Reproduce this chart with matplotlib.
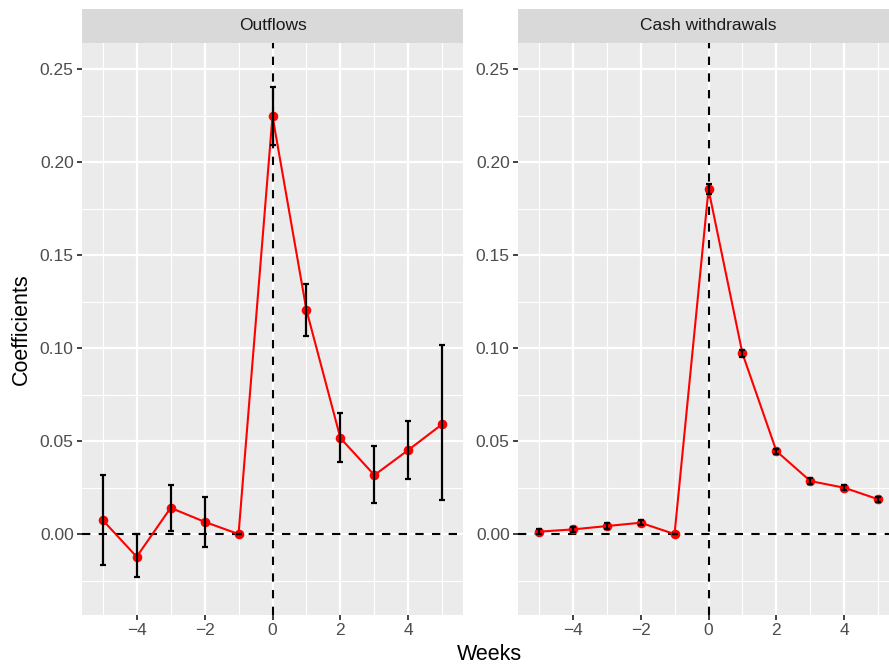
import matplotlib.pyplot as plt
import numpy as np

plt.rcParams["font.family"] = ["Liberation Sans", "DejaVu Sans"]

weeks = [-5, -4, -3, -2, -1, 0, 1, 2, 3, 4, 5]

# Outflows
out_coef = [0.0075, -0.0122, 0.0141, 0.0066, 0.0, 0.2247, 0.1204, 0.0516, 0.0317, 0.0452, 0.0591]
out_low = [-0.0167, -0.0231, 0.0018, -0.0068, 0.0, 0.2091, 0.1066, 0.0390, 0.0167, 0.0296, 0.0183]
out_high = [0.0317, 0.0, 0.0263, 0.0200, 0.0, 0.2405, 0.1342, 0.0650, 0.0473, 0.0608, 0.1016]

# Cash withdrawals
cash_coef = [0.0013, 0.0025, 0.0043, 0.0061, 0.0, 0.1853, 0.0971, 0.0446, 0.0285, 0.0249, 0.0187]
cash_low = [0.0001, 0.0012, 0.0029, 0.0047, 0.0, 0.1826, 0.0952, 0.0432, 0.0271, 0.0236, 0.0174]
cash_high = [0.0025, 0.0038, 0.0057, 0.0075, 0.0, 0.1880, 0.0990, 0.0460, 0.0299, 0.0262, 0.0200]

panels = [
    ("Outflows", out_coef, out_low, out_high),
    ("Cash withdrawals", cash_coef, cash_low, cash_high),
]

W, H = 889, 668
fig = plt.figure(figsize=(W / 100, H / 100), dpi=100)

panel_left = [82, 518]
panel_w = 381
panel_top = 43
panel_bot = 615
strip_top = 9

TICK_COL = "#4D4D4D"

for (title, coef, low, high), px in zip(panels, panel_left):
    ax = fig.add_axes([px / W, 1 - panel_bot / H, panel_w / W, (panel_bot - panel_top) / H])
    ax.set_facecolor("#EBEBEB")
    for s in ax.spines.values():
        s.set_visible(False)

    ax.set_xlim(-5.61, 5.61)
    ax.set_ylim(-0.0435, 0.264)

    ax.set_xticks([-4, -2, 0, 2, 4])
    ax.set_xticklabels(["\u22124", "\u22122", "0", "2", "4"])
    ax.set_xticks([-5, -3, -1, 1, 3, 5], minor=True)
    ax.set_yticks([0.0, 0.05, 0.10, 0.15, 0.20, 0.25])
    ax.set_yticklabels(["0.00", "0.05", "0.10", "0.15", "0.20", "0.25"])
    ax.set_yticks([-0.025, 0.025, 0.075, 0.125, 0.175, 0.225], minor=True)

    ax.grid(which="major", color="white", linewidth=1.6)
    ax.grid(which="minor", color="white", linewidth=0.8)
    ax.set_axisbelow(True)
    ax.tick_params(which="major", length=3.5, width=1.3, color="#333333",
                   labelsize=12.5, labelcolor=TICK_COL, pad=2.5)
    ax.tick_params(which="minor", length=0)

    ax.axhline(0, color="black", linestyle=(0, (4, 4)), linewidth=1.5, zorder=2)
    ax.axvline(0, color="black", linestyle=(0, (4, 4)), linewidth=1.5, zorder=2)

    ax.plot(weeks, coef, color="red", linewidth=1.5, zorder=3)
    ax.scatter(weeks, coef, color="red", s=48, zorder=4, linewidths=0)
    c = np.array(coef)
    yerr = [c - np.array(low), np.array(high) - c]
    ax.errorbar(weeks, coef, yerr=yerr, fmt="none", ecolor="black",
                elinewidth=1.6, capsize=2.5, capthick=1.6, zorder=5)

    sax = fig.add_axes([px / W, 1 - panel_top / H, panel_w / W, (panel_top - strip_top) / H])
    sax.set_facecolor("#D9D9D9")
    sax.set_xticks([])
    sax.set_yticks([])
    for s in sax.spines.values():
        s.set_visible(False)
    # center strip text on the full panel width (right panel runs off the edge)
    sax.text(0.5, 0.5, title, ha="center", va="center", fontsize=12.5,
             color="#1A1A1A", transform=sax.transAxes)

fig.text(489 / W, 1 - 654 / H, "Weeks", ha="center", va="center", fontsize=15.5)
fig.text(21 / W, 1 - 329 / H, "Coefficients", ha="center", va="center",
         fontsize=15.5, rotation=90)

fig.savefig("out.png", dpi=100)
